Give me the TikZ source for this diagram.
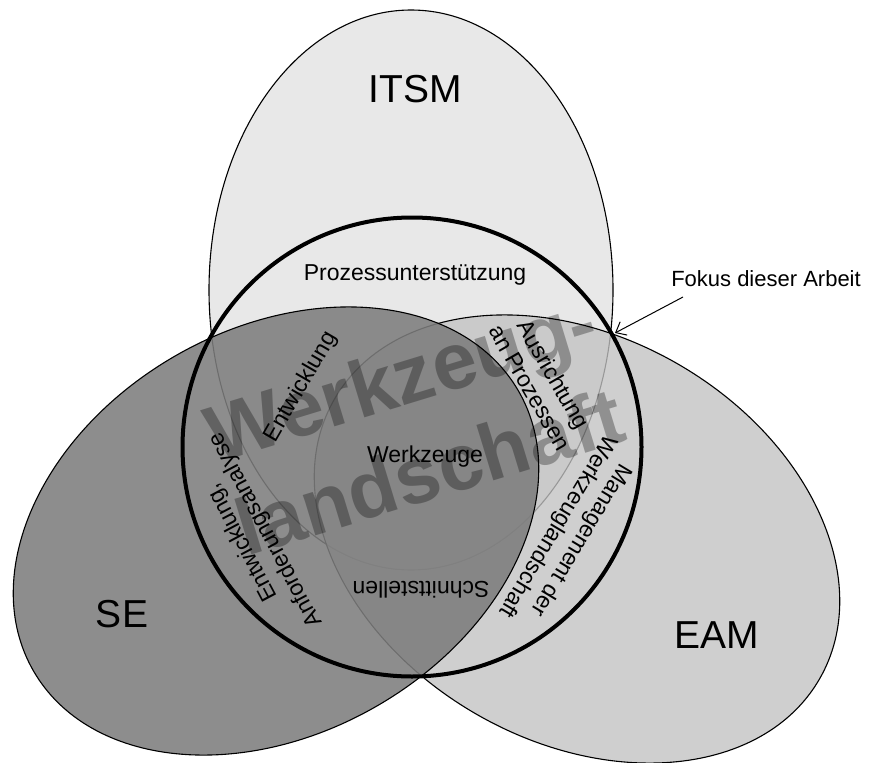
\documentclass[tikz,border=0pt]{standalone}
\usepackage{fontspec}
\setmainfont{Liberation Sans}
\usetikzlibrary{arrows.meta}
\definecolor{itsmfill}{gray}{0.91}
\definecolor{eamfill}{gray}{0.76}
\definecolor{sefill}{gray}{0.49}
\begin{document}
\begin{tikzpicture}[x=1pt,y=1pt,
  outline/.style={draw=black,line width=1.1pt},
  smalltext/.style={font=\fontsize{23}{27}\selectfont,align=center,inner sep=0pt},
  bigtext/.style={font=\fontsize{39}{44}\selectfont,inner sep=0pt},
  watermark/.style={font=\fontsize{80}{98}\selectfont\bfseries,align=center,inner sep=0pt,text=black,text opacity=0.3},
]
\useasboundingbox (0,0) rectangle (874,-762);
% ITSM
\fill[itsmfill] (411,-290) ellipse [x radius=202, y radius=280];
\draw[outline] (411,-290) ellipse [x radius=202, y radius=280];
% EAM
\fill[eamfill,fill opacity=0.79,rotate around={-30:(577,-539)}] (577,-539) ellipse [x radius=280, y radius=202];
\draw[outline,rotate around={-30:(577,-539)}] (577,-539) ellipse [x radius=280, y radius=202];
% SE
\fill[sefill,fill opacity=0.88,rotate around={30:(276,-531)}] (276,-531) ellipse [x radius=280, y radius=202];
\draw[outline,rotate around={30:(276,-531)}] (276,-531) ellipse [x radius=280, y radius=202];
% focus circle
\draw[black,line width=4pt] (412,-447) circle [radius=229.5];
% watermark
\node[watermark,rotate=17] (wl) at (415,-424) {Werkzeug-\\landschaft};
% labels
\node[bigtext,anchor=base] (itsm) at (415,-103) {ITSM};
\node[bigtext,anchor=base] (se) at (122,-627) {SE};
\node[bigtext,anchor=base] (eam) at (717,-648) {EAM};
\node[smalltext,anchor=base] (proz) at (415,-280) {Prozessunterstützung};
\node[smalltext,anchor=base] (wz) at (425,-462) {Werkzeuge};
\node[smalltext,rotate=60] (entw) at (301,-387) {Entwicklung};
\node[smalltext,rotate=118] (anf) at (254,-536) {Entwicklung,\\Anforderungsanalyse};
\node[smalltext,rotate=-60] (ausr) at (542,-381) {Ausrichtung\\an Prozessen};
\node[smalltext,rotate=-121] (mgmt) at (569,-533) {Management der\\Werkzeuglandschaft};
\node[smalltext,rotate=180] (schn) at (421,-590) {Schnittstellen};
\node[font=\fontsize{22}{26}\selectfont,inner sep=0pt,anchor=base] (fokus) at (766,-286) {Fokus dieser Arbeit};
\coordinate (fstart) at (683,-297);
\coordinate (fpoint) at (615,-333);
\draw[line width=1pt,-{Straight Barb[length=9pt,width=15pt]}] (fstart) -- (fpoint);
\end{tikzpicture}
\end{document}
